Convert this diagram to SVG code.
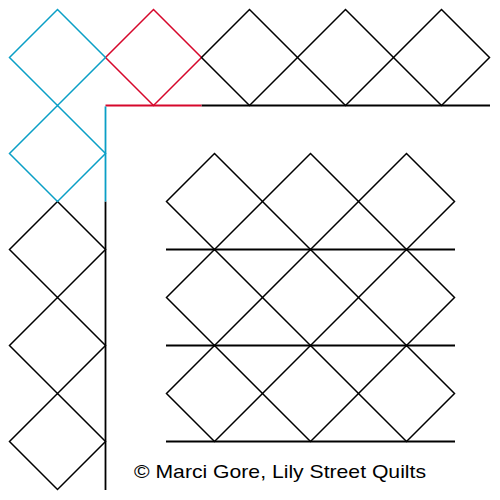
<svg xmlns="http://www.w3.org/2000/svg" width="500" height="500" viewBox="0 0 500 500">
<defs>
<style>
.d{fill:none;stroke:#000;stroke-width:1.5}
.l{stroke:#000;stroke-width:1.8;fill:none}
.c{stroke:#0a9fc6}
.r{stroke:#d6072b}
text{font-family:"Liberation Sans",Arial,sans-serif;font-size:19px;fill:#000}
</style>
<path id="dm" d="M0,-48 L48,0 L0,48 L-48,0 Z"/>
</defs>
<rect width="500" height="500" fill="#fff"/>
<g id="border-top">
<use href="#dm" class="d r" x="153.5" y="57.5"/>
<use href="#dm" class="d" x="249.5" y="57.5"/>
<use href="#dm" class="d" x="345.5" y="57.5"/>
<use href="#dm" class="d" x="441.5" y="57.5"/>
</g>
<g id="border-left">
<use href="#dm" class="d" x="57.5" y="249.5"/>
<use href="#dm" class="d" x="57.5" y="345.5"/>
<use href="#dm" class="d" x="57.5" y="441.5"/>
<use href="#dm" class="d c" x="57.5" y="57.5"/>
<use href="#dm" class="d c" x="57.5" y="153.5"/>
</g>
<g id="lines">
<line class="l" x1="201.5" y1="105.5" x2="490" y2="105.5"/>
<line class="l" x1="105.5" y1="201.5" x2="105.5" y2="490"/>
<line class="l r" x1="105.5" y1="105.5" x2="201.5" y2="105.5"/>
<line class="l c" x1="105.5" y1="106.4" x2="105.5" y2="201.5"/>
</g>
<g id="grid">
<use href="#dm" class="d" x="214.5" y="201.5"/>
<use href="#dm" class="d" x="310.5" y="201.5"/>
<use href="#dm" class="d" x="406.5" y="201.5"/>
<use href="#dm" class="d" x="214.5" y="297.5"/>
<use href="#dm" class="d" x="310.5" y="297.5"/>
<use href="#dm" class="d" x="406.5" y="297.5"/>
<use href="#dm" class="d" x="214.5" y="393.5"/>
<use href="#dm" class="d" x="310.5" y="393.5"/>
<use href="#dm" class="d" x="406.5" y="393.5"/>
<line class="l" x1="166" y1="249.5" x2="455" y2="249.5"/>
<line class="l" x1="166" y1="345.5" x2="455" y2="345.5"/>
<line class="l" x1="166" y1="441.5" x2="455" y2="441.5"/>
</g>
<text x="134" y="477.5" textLength="292" lengthAdjust="spacingAndGlyphs">© Marci Gore, Lily Street Quilts</text>
</svg>
